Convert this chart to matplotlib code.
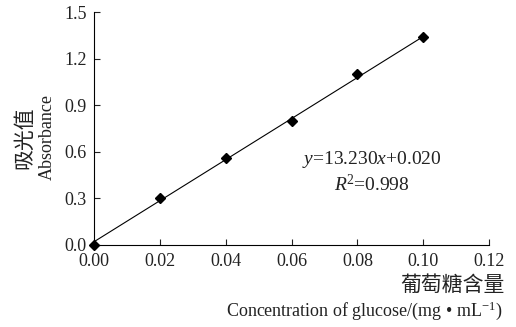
import matplotlib
matplotlib.use("Agg")
import matplotlib.pyplot as plt
import numpy as np

plt.rcParams['font.family'] = ['Liberation Serif', 'Noto Sans CJK SC']
plt.rcParams['mathtext.fontset'] = 'custom'
plt.rcParams['mathtext.rm'] = 'Liberation Serif'
plt.rcParams['mathtext.it'] = 'Liberation Serif:italic'

conc = [0.00, 0.02, 0.04, 0.06, 0.08, 0.10]
absorb = [0.00, 0.30, 0.56, 0.80, 1.10, 1.34]
slope = 13.230
intercept = 0.020
xticks = [0.00, 0.02, 0.04, 0.06, 0.08, 0.10, 0.12]
yticks = [0.0, 0.3, 0.6, 0.9, 1.2, 1.5]

fig = plt.figure(figsize=(5.16, 3.27), dpi=100)
ax = fig.add_axes([0.182, 0.251, 0.766, 0.712])

fx = np.array([0.0, 0.10])
ax.plot(fx, slope * fx + intercept, color='black', lw=0.8)
ax.plot(conc, absorb, 'D', color='black', ms=5.5, clip_on=False)

ax.set_xlim(0, 0.12)
ax.set_ylim(0, 1.5)
ax.set_xticks(xticks)
ax.set_yticks(yticks)
ax.set_xticklabels(['%.2f' % v for v in xticks])
ax.set_yticklabels(['%.1f' % v for v in yticks])
ax.tick_params(direction='in', length=4, width=0.8, labelsize=13, colors='#222222')
ax.tick_params(axis='y', pad=5)
ax.tick_params(axis='x', pad=6)
for s in ['top', 'right']:
    ax.spines[s].set_visible(False)
for s in ['left', 'bottom']:
    ax.spines[s].set_linewidth(0.8)

ax.text(0.0845, 0.548, r'$y$=13.230$x$+0.020', fontsize=14, ha='center', va='center',
        color='#222222')
ax.text(0.0845, 0.39, r'$R$$^2$=0.998', fontsize=14, ha='center', va='center',
        color='#222222')

fig.text(0.047, 0.58, '吸光值', rotation=90, fontsize=15, ha='center', va='center',
         family=['Noto Sans CJK SC'], color='#222222')
fig.text(0.091, 0.58, 'Absorbance', rotation=90, fontsize=13, ha='center', va='center',
         color='#222222')
fig.text(0.979, 0.128, '葡萄糖含量', fontsize=15, ha='right', va='center',
         family=['Noto Sans CJK SC'], color='#222222')
fig.text(0.973, 0.049, 'Concentration of glucose/(mg • mL$^{-1}$)', fontsize=13,
         ha='right', va='center', color='#222222')

fig.savefig('out.png', dpi=100)
